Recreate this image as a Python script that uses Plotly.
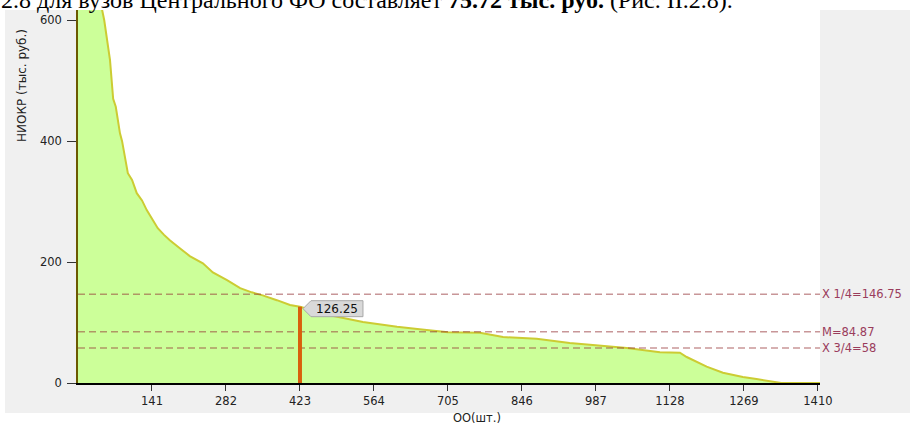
import plotly.graph_objects as go

# ---- data ----
x_oo = [0, 25, 40, 46, 50, 55, 61, 67, 72, 80, 84, 95, 103, 112, 122, 131, 141, 152,
        164, 175, 194, 213, 238, 257, 284, 309, 331, 352, 379, 404, 423, 480, 543,
        608, 651, 705, 766, 810, 874, 937, 981, 1046, 1109, 1147, 1160, 1172, 1198,
        1229, 1267, 1293, 1332, 1340, 1414]
y_niokr = [1500, 800, 660, 617, 600, 570, 534, 470, 457, 413, 400, 347, 336, 314, 302,
           286, 272, 256, 245, 236, 223, 210, 198, 183, 170, 157, 150, 145, 137, 129,
           126.25, 112, 101, 93, 89, 84, 83, 76, 73, 66, 63, 58, 51, 50, 43, 38, 27,
           17, 10, 6.6, 1, 0, 0]

stat_values = [146.75, 84.87, 58]
stat_labels = ["X 1/4=146.75", "M=84.87", "X 3/4=58"]

hl_x = 423
hl_y = 126.25
hl_text = "126.25"

x_ticks = [141, 282, 423, 564, 705, 846, 987, 1128, 1269, 1410]
y_ticks = [0, 200, 400, 600]

x_title = "ОО(шт.)"
y_title = "НИОКР (тыс. руб.)"
top_text = ("2.8 для вузов Центрального ФО составляет <b>75.72 тыс. руб.</b> "
            "(Рис. II.2.8).")

# ---- figure ----
W, H = 910, 425
L, R, T, B = 78, 90, 10, 42
pw, ph = W - L - R, H - T - B


def px_x(p):
    return (p - L) / pw


def px_y(p):
    return (H - B - p) / ph


fig = go.Figure()
fig.add_trace(go.Scatter(
    x=x_oo, y=y_niokr, mode="lines", fill="tozeroy",
    fillcolor="#ccff99", line=dict(color="#cccc33", width=2),
    hoverinfo="skip", showlegend=False))

fig.add_trace(go.Scatter(
    x=[hl_x], y=[0], mode="markers", cliponaxis=False,
    marker=dict(symbol="square", size=4, color="#ff2a00"),
    hoverinfo="skip", showlegend=False))

shapes = [
    dict(type="rect", xref="paper", yref="paper", layer="below",
         x0=px_x(5), x1=px_x(910), y0=px_y(413), y1=px_y(10),
         fillcolor="#f0f0f0", line=dict(width=0)),
    dict(type="rect", xref="paper", yref="paper", layer="below",
         x0=0, x1=1, y0=0, y1=1, fillcolor="white", line=dict(width=0)),
]
for v in stat_values:
    shapes.append(dict(type="line", xref="paper", yref="y", x0=0, x1=1, y0=v, y1=v,
                       layer="above",
                       line=dict(color="rgba(145,45,50,0.5)", width=1.6, dash="7px,4px")))
shapes.append(dict(type="line", xref="x", yref="y", x0=hl_x, x1=hl_x, y0=0, y1=hl_y,
                   layer="above", line=dict(color="#d9600c", width=4)))
shapes.append(dict(type="path", xref="x", yref="y", xsizemode="pixel", ysizemode="pixel",
                   xanchor=hl_x, yanchor=hl_y, layer="above",
                   path="M 3 -2 L 11 6 L 63 6 L 63 -10 L 11 -10 Z",
                   fillcolor="#d9d9d9", line=dict(color="#a8a8a8", width=1)))

annotations = []
for v, t in zip(stat_values, stat_labels):
    annotations.append(dict(x=1, y=v, xref="paper", yref="y", text=t, showarrow=False,
                            xanchor="left", yanchor="middle", xshift=0,
                            font=dict(family="DejaVu Sans", size=11.5, color="#9a3c5c")))
annotations.append(dict(x=hl_x, y=hl_y, xref="x", yref="y", text=hl_text, showarrow=False,
                        xanchor="center", yanchor="middle", xshift=37, yshift=-2,
                        font=dict(family="DejaVu Sans", size=12, color="#111111")))
annotations.append(dict(x=px_x(22), y=px_y(86), xref="paper", yref="paper", text=y_title,
                        showarrow=False, textangle=-90, xanchor="center", yanchor="middle",
                        font=dict(family="DejaVu Sans", size=12, color="#222222")))
annotations.append(dict(x=px_x(477), y=px_y(418), xref="paper", yref="paper", text=x_title,
                        showarrow=False, xanchor="center", yanchor="middle",
                        font=dict(family="DejaVu Sans", size=11.5, color="#222222")))
annotations.append(dict(x=px_x(-1), y=px_y(0), xref="paper", yref="paper", text=top_text,
                        showarrow=False, xanchor="left", yanchor="middle",
                        font=dict(family="Liberation Serif", size=24, color="#000000")))

fig.update_layout(
    width=W, height=H,
    margin=dict(l=L, r=R, t=T, b=B, pad=0),
    paper_bgcolor="white", plot_bgcolor="white",
    shapes=shapes, annotations=annotations,
    showlegend=False,
    font=dict(family="DejaVu Sans", size=11.5, color="#222222"),
    xaxis=dict(range=[0, 1414], tickvals=x_ticks, ticktext=[str(v) for v in x_ticks],
               showgrid=False, zeroline=False, showline=True, linecolor="#000000",
               linewidth=1.5, ticks="outside", ticklen=6, tickcolor="#333333",
               tickwidth=1.2),
    yaxis=dict(range=[0, 617], tickvals=y_ticks, showgrid=False, zeroline=False,
               showline=True, linecolor="#6b5a00", linewidth=1.5, ticks="outside",
               ticklen=9, tickcolor="#333333", tickwidth=1.2, ticklabelstandoff=3),
)

fig.write_html("out.html",
               config={"displayModeBar": False},
               post_script="document.body.style.margin='0';"
                           "document.body.style.overflow='hidden';")
